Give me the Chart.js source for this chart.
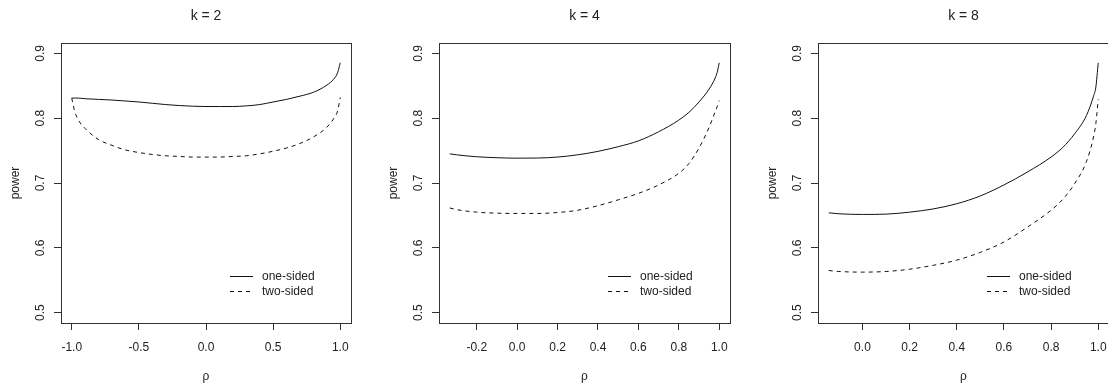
<!DOCTYPE html>
<html>
<head>
<meta charset="utf-8">
<title>power vs rho</title>
<script src="https://cdn.jsdelivr.net/npm/chart.js@4.4.1/dist/chart.umd.min.js"></script>
<style>
    body { margin: 0; width: 1108px; height: 386px; overflow: hidden; background: #fff; position: relative; }
    .panel { position: absolute; top: 0; width: 369px; height: 386px; }
</style>
</head>
<body>
<div class="panel" style="left:0px"><canvas id="chart-k2" width="369" height="386"></canvas></div>
<div class="panel" style="left:378px"><canvas id="chart-k4" width="369" height="386"></canvas></div>
<div class="panel" style="left:757px"><canvas id="chart-k8" width="369" height="386"></canvas></div>
<script>
// values (power against rho)
const powerTicks = [0.5, 0.6, 0.7, 0.8, 0.9];
const seriesLabels = ['one-sided', 'two-sided'];

// k = 2
const rhoK2 = [-1, -0.98, -0.95, -0.9, -0.8, -0.7, -0.6, -0.5, -0.4, -0.3, -0.2, -0.1, 0, 0.1, 0.2, 0.3, 0.4, 0.5, 0.6, 0.7, 0.8, 0.9, 0.95, 0.98, 1];
const oneSidedK2 = [0.831, 0.831, 0.831, 0.830, 0.829, 0.828, 0.8265, 0.825, 0.823, 0.821, 0.8195, 0.8185, 0.818, 0.818, 0.818, 0.819, 0.821, 0.825, 0.829, 0.834, 0.840, 0.851, 0.860, 0.870, 0.8855];
const twoSidedK2 = [0.831, 0.812, 0.797, 0.784, 0.767, 0.758, 0.751, 0.747, 0.744, 0.742, 0.741, 0.740, 0.740, 0.740, 0.741, 0.742, 0.745, 0.749, 0.754, 0.761, 0.771, 0.786, 0.799, 0.811, 0.832];
const xTicksK2 = [-1, -0.5, 0, 0.5, 1];

// k = 4
const rhoK4 = [-1 / 3, -0.3, -0.2, -0.1, 0, 0.1, 0.2, 0.3, 0.4, 0.5, 0.6, 0.7, 0.8, 0.85, 0.9, 0.95, 0.98, 0.99, 1];
const oneSidedK4 = [0.745, 0.7435, 0.7405, 0.739, 0.7383, 0.7385, 0.740, 0.7435, 0.7488, 0.756, 0.765, 0.779, 0.797, 0.809, 0.825, 0.845, 0.862, 0.871, 0.8855];
const twoSidedK4 = [0.6615, 0.659, 0.655, 0.6535, 0.653, 0.653, 0.6545, 0.658, 0.665, 0.674, 0.684, 0.697, 0.715, 0.730, 0.754, 0.786, 0.810, 0.818, 0.827];
const xTicksK4 = [-0.2, 0, 0.2, 0.4, 0.6, 0.8, 1];

// k = 8
const rhoK8 = [-1 / 7, -0.1, 0, 0.1, 0.2, 0.3, 0.4, 0.5, 0.6, 0.7, 0.8, 0.85, 0.9, 0.95, 0.98, 0.99, 1];
const oneSidedK8 = [0.654, 0.6525, 0.6515, 0.652, 0.655, 0.660, 0.668, 0.680, 0.697, 0.717, 0.740, 0.755, 0.776, 0.804, 0.834, 0.848, 0.8855];
const twoSidedK8 = [0.565, 0.5635, 0.5625, 0.5635, 0.567, 0.573, 0.581, 0.593, 0.609, 0.632, 0.658, 0.675, 0.699, 0.733, 0.771, 0.792, 0.829];
const xTicksK8 = [0, 0.2, 0.4, 0.6, 0.8, 1];

const INK = '#222';
const FONT = { family: '"Liberation Sans", Arial, sans-serif', size: 12 };

Chart.defaults.font.family = FONT.family;
Chart.defaults.color = INK;

// R draws a closed box round the plot region
const boxPlugin = {
    id: 'rbox',
    afterDraw(chart) {
        const { ctx, chartArea: a } = chart;
        ctx.save();
        ctx.strokeStyle = '#333';
        ctx.lineWidth = 1;
        ctx.strokeRect(Math.round(a.left) + 0.5, Math.round(a.top) + 0.5,
            Math.round(a.right - a.left), Math.round(a.bottom - a.top));
        ctx.restore();
    }
};

// legend without a frame, placed inside the plot like legend(bty = "n")
const legendPlugin = {
    id: 'rlegend',
    afterDraw(chart) {
        const { ctx, chartArea: a } = chart;
        ctx.save();
        ctx.font = `${FONT.size}px ${FONT.family}`;
        ctx.textBaseline = 'middle';
        ctx.fillStyle = INK;
        chart.data.datasets.forEach((ds, i) => {
            const y = Math.round(a.top + 232.5 + i * 15.4) + 0.5;
            ctx.strokeStyle = ds.borderColor;
            ctx.lineWidth = 1;
            ctx.setLineDash(ds.borderDash || []);
            ctx.beginPath();
            ctx.moveTo(a.left + 169, y);
            ctx.lineTo(a.left + 192, y);
            ctx.stroke();
            ctx.fillText(ds.label, a.left + 201, y);
        });
        ctx.restore();
    }
};

function makePanel(canvasId, title, rho, oneSided, twoSided, xTicks, chartWidth) {
    const span = rho[rho.length - 1] - rho[0];
    const ctx = document.getElementById(canvasId).getContext('2d');
    return new Chart(ctx, {
        type: 'line',
        data: {
            datasets: [{
                label: seriesLabels[0],
                data: rho.map((r, i) => ({ x: r, y: oneSided[i] })),
                borderColor: '#111',
                borderWidth: 1,
                pointRadius: 0,
                cubicInterpolationMode: 'monotone',
                fill: false
            }, {
                label: seriesLabels[1],
                data: rho.map((r, i) => ({ x: r, y: twoSided[i] })),
                borderColor: '#111',
                borderWidth: 1,
                borderDash: [4, 4],
                pointRadius: 0,
                cubicInterpolationMode: 'monotone',
                fill: false
            }]
        },
        options: {
            responsive: false,
            animation: false,
            layout: { padding: { left: 0, top: 0, bottom: 0, right: 369 - 61 - chartWidth } },
            plugins: {
                legend: { display: false },
                tooltip: { enabled: false },
                title: {
                    display: true,
                    text: title,
                    fullSize: false,
                    color: INK,
                    font: { size: 14, weight: 'normal' },
                    padding: { top: 7.3, bottom: 18.9 }
                }
            },
            scales: {
                x: {
                    type: 'linear',
                    min: rho[0] - 0.04 * span,
                    max: rho[rho.length - 1] + 0.04 * span,
                    afterBuildTicks: s => { s.ticks = xTicks.map(v => ({ value: v })); },
                    afterFit: s => { s.height = 63; },
                    ticks: {
                        maxRotation: 0,
                        padding: 10,
                        font: { size: 12 },
                        color: INK,
                        callback: v => v.toFixed(1)
                    },
                    grid: { drawOnChartArea: false, drawTicks: true, tickLength: 7, tickColor: '#333' },
                    border: { display: false },
                    title: { display: true, text: 'ρ', color: INK, font: { size: 12 }, padding: { top: 0, bottom: 2 } }
                },
                y: {
                    type: 'linear',
                    min: 0.484,
                    max: 0.916,
                    afterBuildTicks: s => { s.ticks = powerTicks.map(v => ({ value: v })); },
                    afterFit: s => { s.width = 61; },
                    ticks: {
                        minRotation: 90,
                        maxRotation: 90,
                        crossAlign: 'center',
                        padding: 5,
                        font: { size: 12 },
                        color: INK,
                        callback: v => v.toFixed(1)
                    },
                    grid: { drawOnChartArea: false, drawTicks: true, tickLength: 7, tickColor: '#333' },
                    border: { display: false },
                    title: { display: true, text: 'power', color: INK, font: { size: 12 }, padding: { top: 8, bottom: 0 } }
                }
            }
        },
        plugins: [boxPlugin, legendPlugin]
    });
}

makePanel('chart-k2', 'k = 2', rhoK2, oneSidedK2, twoSidedK2, xTicksK2, 290);
makePanel('chart-k4', 'k = 4', rhoK4, oneSidedK4, twoSidedK4, xTicksK4, 291);
makePanel('chart-k8', 'k = 8', rhoK8, oneSidedK8, twoSidedK8, xTicksK8, 291);
</script>
</body>
</html>
